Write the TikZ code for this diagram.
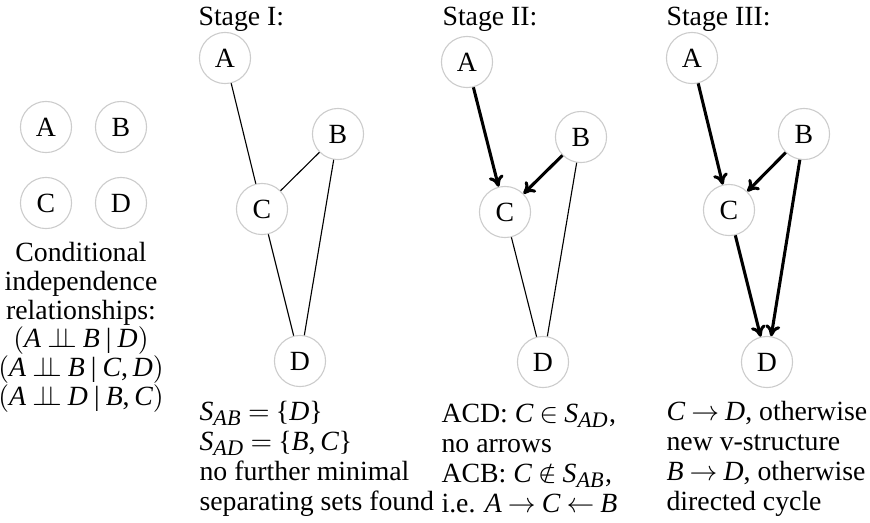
\documentclass[tikz,border=0pt]{standalone}
\usepackage{fontspec}
\setmainfont{Liberation Serif}
\usepackage[italic]{mathastext}
\usetikzlibrary{arrows.meta}
\newcommand{\indep}{\mathrel{\perp\!\!\!\perp}}
\thickmuskip=4mu plus 2mu
\tikzset{
  var/.style={circle, draw=black!20, line width=0.4pt, minimum size=18.4pt, inner sep=0pt},
  edge/.style={line width=0.4pt},
  arc/.style={-{To[length=4pt,width=5.4pt]}, line width=1.1pt},
  note/.style={align=left, anchor=base west, inner sep=0pt, font=\fontsize{10}{10.8}\selectfont}
}

\begin{document}
\begin{tikzpicture}[x=0.36pt,y=-0.36pt]
        \useasboundingbox (0,0) rectangle (870,522);

        \node[var] (a0) at (46,127) {A};
        \node[var] (b0) at (121,127) {B};
        \node[var] (c0) at (46,203) {C};
        \node[var] (d0) at (121,203) {D};
        \node[align=center, anchor=base, inner sep=0pt, font=\fontsize{10}{10.3}\selectfont] (ci) at (81,405)
          {Conditional\\independence\\relationships:\\$(A\indep B\mid D)$\\$(A\indep B\mid C,D)$\\$(A\indep D\mid B,C)$};

        \node[note] (t1) at (198,25) {Stage I:};
        \node[var] (a1) at (225,58) {A};
        \node[var] (b1) at (338,134) {B};
        \node[var] (c1) at (262,209) {C};
        \node[var] (d1) at (300,361) {D};
        \draw[edge] (a1) -- (c1);
        \draw[edge] (b1) -- (c1);
        \draw[edge] (c1) -- (d1);
        \draw[edge] (b1) -- (d1);
        \node[note] (n1) at (199,510)
          {$S_{AB}=\{D\}$\\$S_{AD}=\{B,C\}$\\no further minimal\\separating sets found};

        \node[note] (t2) at (442,25) {Stage II:};
        \node[var] (a2) at (467,62) {A};
        \node[var] (b2) at (581,137) {B};
        \node[var] (c2) at (505,212) {C};
        \node[var] (d2) at (543,362) {D};
        \draw[arc] (a2) -- (c2);
        \draw[arc] (b2) -- (c2);
        \draw[edge] (c2) -- (d2);
        \draw[edge] (b2) -- (d2);
        \node[note] (n2) at (441,512)
          {ACD: $C\in S_{AD}$,\\no arrows\\ACB: $C\notin S_{AB}$,\\i.e. $A\rightarrow C\leftarrow B$};

        \node[note] (t3) at (666,25) {Stage III:};
        \node[var] (a3) at (692,58) {A};
        \node[var] (b3) at (804,134) {B};
        \node[var] (c3) at (729,210) {C};
        \node[var] (d3) at (767,362) {D};
        \draw[arc] (a3) -- (c3);
        \draw[arc] (b3) -- (c3);
        \draw[arc] (c3) -- (d3);
        \draw[arc] (b3) -- (d3);
        \node[note] (n3) at (666,510)
          {$C\rightarrow D$, otherwise\\new v-structure\\$B\rightarrow D$, otherwise\\directed cycle};

\end{tikzpicture}
\end{document}
